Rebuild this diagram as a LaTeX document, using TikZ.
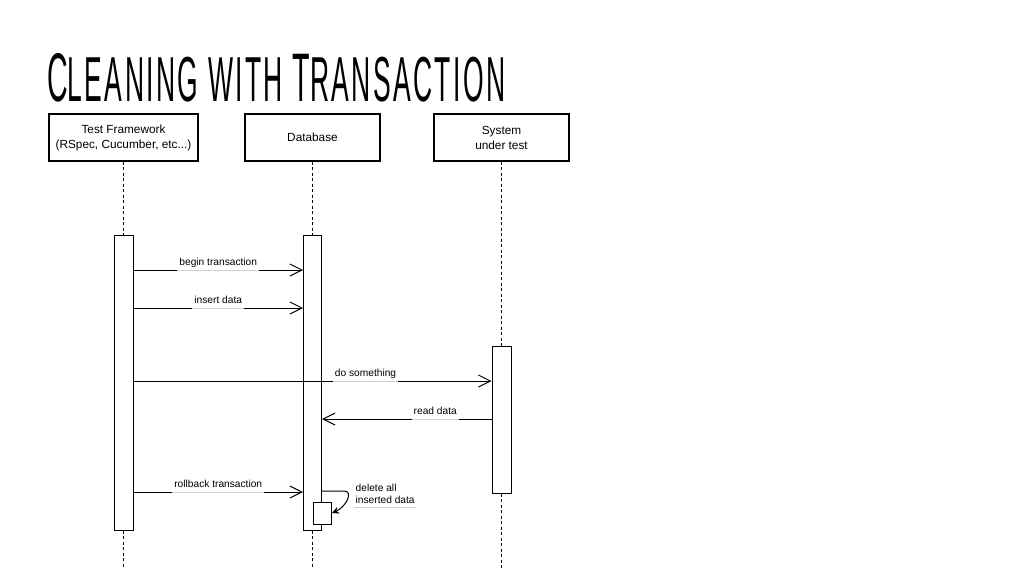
\documentclass[tikz,border=0pt]{standalone}
\usepackage{fontspec}
\usepackage{graphicx}
\setmainfont{Liberation Sans}
\newfontfamily\titlefont[LetterSpace=9]{Liberation Sans}
\usetikzlibrary{positioning,arrows.meta}
\newcommand{\titlebig}[1]{{\fontsize{40}{40}\selectfont #1}}
\newcommand{\titlesmall}[1]{{\fontsize{37}{37}\selectfont #1}}
\tikzset{
  actor/.style={draw, rectangle, line width=1.2pt, minimum width=135pt, minimum height=47pt, align=center, font=\fontsize{11.8}{15}\selectfont},
  bar/.style={draw, rectangle, fill=white, line width=1pt, minimum width=19pt, inner sep=0pt},
  life/.style={line width=1.9pt, dash pattern=on 3pt off 2.5pt},
  msg/.style={line width=1pt, -{Straight Barb[length=12pt,width=12pt]}},
  lbl/.style={font=\fontsize{10.2}{12}\selectfont, inner sep=1.5pt, text depth=2.5pt},
  underline/.style={draw=black!18, line width=0.6pt}
}
\begin{document}
\begin{tikzpicture}[x=1pt, y=-1pt, node distance=189pt, auto]
    \useasboundingbox (0,0) rectangle (1024,576);
    % Title
    \node[anchor=south west, inner sep=0pt, font=\titlefont] (title) at (47,102)
      {\resizebox{458pt}{48pt}{\titlebig{C}\titlesmall{LEANING WITH }\titlebig{T}\titlesmall{RANSACTION}}};

    % Participants
    \node[actor, minimum width=149pt] (tf) at (123.5,137.5) {Test Framework\\(RSpec, Cucumber, etc...)};
    \node[actor, right of=tf] (db) {Database};
    \node[actor, right of=db] (sut) {System\\under test};

    % Activation bars
    \node[bar, minimum height=295pt, below=73pt of tf] (tfbar) {};
    \node[bar, minimum width=18pt, minimum height=295pt, below=73pt of db] (dbbar) {};
    \node[bar, minimum height=147pt, below=184pt of sut] (sutbar) {};
    \node[bar, minimum width=18pt, minimum height=22pt] (sub) at ([xshift=10pt]dbbar.center |- 0,513) {};

    % Lifelines
    \coordinate (tfend) at ([yshift=-38pt]tfbar.south);
    \coordinate (dbend) at ([yshift=-38pt]dbbar.south);
    \coordinate (sutend) at ([yshift=-75pt]sutbar.south);
    \foreach \p in {tf,db,sut} {
      \draw[life] (\p) -- (\p bar);
      \draw[life] (\p bar) -- (\p end);
    }

    % Messages
    \draw[msg] (tfbar.east |- 0,270) -- node[lbl, above] (begin) {begin transaction} (dbbar.west |- 0,270);
    \draw[msg] (tfbar.east |- 0,308) -- node[lbl, above] (insert) {insert data} (dbbar.west |- 0,308);
    \draw[msg] (tfbar.east |- 0,381) -- node[lbl, pos=0.557, anchor=south west] (do) {do something} (sutbar.west |- 0,381);
    \draw[msg] (sutbar.west |- 0,419) -- node[lbl, pos=0.193, anchor=south east] (read) {read data} (dbbar.east |- 0,419);
    \draw[msg] (tfbar.east |- 0,492) -- node[lbl, above] (rollback) {rollback transaction} (dbbar.west |- 0,492);

    % Self call
    \coordinate (selfstart) at (dbbar.east |- 0,491);
    \draw[line width=1pt, -{Stealth[length=7pt,width=7pt]}] (selfstart) -- ++(22,0)
      .. controls +(10,0) and +(14,-6) .. (sub.east);
    \node[lbl, anchor=north west, align=left] (delete) at (354,482) {delete all\\inserted data};

    % Label underlines
    \foreach \l in {begin,insert,do,read,rollback,delete}
      \draw[underline] (\l.south west) -- (\l.south east);
\end{tikzpicture}
\end{document}
